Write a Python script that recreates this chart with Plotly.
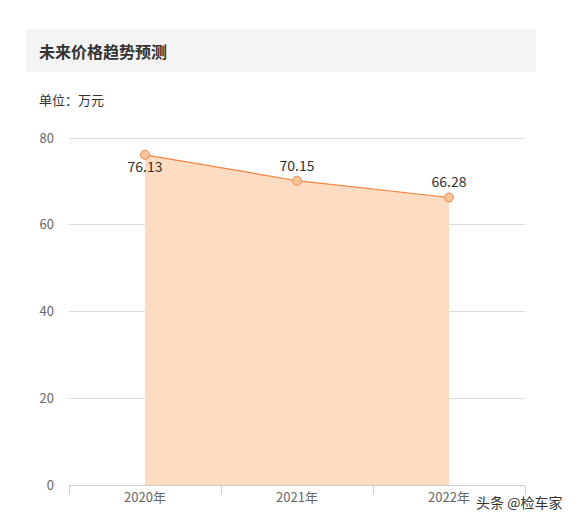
import plotly.graph_objects as go

years = ["2020年", "2021年", "2022年"]
prices = [76.13, 70.15, 66.28]
label_pos = ["bottom center", "top center", "top center"]

fig = go.Figure()
fig.add_trace(go.Scatter(
    x=years,
    y=prices,
    mode="lines+markers+text",
    fill="tozeroy",
    fillcolor="rgba(253,218,190,0.95)",
    line=dict(color="#f5823d", width=1.2),
    marker=dict(size=9, color="#fbc39a", line=dict(color="#f08a4b", width=1)),
    text=[f"{v:.2f}" for v in prices],
    textposition=label_pos,
    textfont=dict(size=14, color="#333333", family="Noto Sans CJK SC"),
    cliponaxis=False,
    hoverinfo="skip",
))

# page has an 8px body margin, so work in figure pixels = screen pixels - 8
OFF = 8
W, H = 580, 525
# y range topped a little above 80 so the 80 gridline is kept
Y_TOP = 80 * 349 / 347
L, R, T, B = 69 - OFF, 525 - OFF, 136 - OFF, 485 - OFF


def px_x(x):
    return (x - OFF - L) / (R - L)


def px_y(y):
    return (B - (y - OFF)) / (B - T)


# grey header box
fig.add_shape(type="rect", xref="paper", yref="paper",
              x0=px_x(26), x1=px_x(536), y0=px_y(72), y1=px_y(29),
              fillcolor="#f4f4f4", line_width=0, layer="below")

fig.add_annotation(text="<b>未来价格趋势预测</b>", xref="paper", yref="paper",
                   x=px_x(37), y=px_y(51), xanchor="left", yanchor="middle",
                   showarrow=False, font=dict(size=16, color="#333333"))
fig.add_annotation(text="单位：万元", xref="paper", yref="paper",
                   x=px_x(37), y=px_y(99), xanchor="left", yanchor="middle",
                   showarrow=False, font=dict(size=13, color="#333333"))
fig.add_annotation(text="头条 @检车家", xref="paper", yref="paper",
                   x=px_x(564), y=px_y(502), xanchor="right", yanchor="middle",
                   showarrow=False, font=dict(size=14, color="#333333"))

fig.update_xaxes(
    type="category",
    range=[-0.5, 2.5],
    tickson="boundaries",
    ticks="outside",
    ticklen=8,
    tickcolor="#cccccc",
    showline=True,
    linecolor="#cccccc",
    showgrid=False,
    tickfont=dict(size=13, color="#666666"),
)
fig.update_yaxes(
    range=[0, Y_TOP],
    tickvals=[0, 20, 40, 60, 80],
    showgrid=True,
    gridcolor="#dddddd",
    zeroline=False,
    showline=False,
    ticks="",
    ticklabelstandoff=14,
    tickfont=dict(size=13, color="#666666"),
)

fig.update_layout(
    width=W,
    height=H,
    margin=dict(l=L, r=W - R, t=T, b=H - B),
    plot_bgcolor="white",
    paper_bgcolor="white",
    showlegend=False,
    font=dict(family="Noto Sans CJK SC, Microsoft YaHei, sans-serif"),
)

fig.write_html("out.html")
